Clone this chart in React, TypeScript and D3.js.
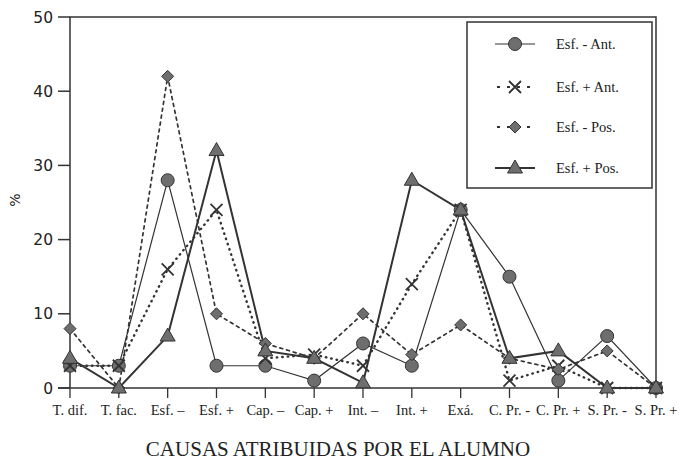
import React, { useEffect, useRef } from 'react';
import * as d3 from 'd3';

const categories = ['T. dif.', 'T. fac.', 'Esf. –', 'Esf. +', 'Cap. –', 'Cap. +', 'Int. –', 'Int. +', 'Exá.', 'C. Pr. -', 'C. Pr. +', 'S. Pr. -', 'S. Pr. +'];

const esfMenosAnt = [3, 3, 28, 3, 3, 1, 6, 3, 24, 15, 1, 7, 0];
const esfMasAnt = [3, 3, 16, 24, 4, 4.5, 3, 14, 24, 1, 3, 0, 0];
const esfMenosPos = [8, 0, 42, 10, 6, 4, 10, 4.5, 8.5, 4, 2.5, 5, 0];
const esfMasPos = [4, 0, 7, 32, 5, 4, 0.7, 28, 24, 4, 5, 0, 0];

const yTicks = [0, 10, 20, 30, 40, 50];

const series = [
  { name: 'Esf. - Ant.', values: esfMenosAnt, marker: 'circle', width: 1.2, dash: null },
  { name: 'Esf. + Ant.', values: esfMasAnt, marker: 'cross', width: 2.4, dash: '0.5,5' },
  { name: 'Esf. - Pos.', values: esfMenosPos, marker: 'diamond', width: 1.7, dash: '3,4' },
  { name: 'Esf. + Pos.', values: esfMasPos, marker: 'triangle', width: 2, dash: null },
];

const INK = '#333';
const FILL = '#6e6e6e';
const SERIF = 'Liberation Serif, Times New Roman, serif';

function drawMarker(g, kind, x, y) {
  if (kind === 'circle') {
    g.append('circle').attr('cx', x).attr('cy', y).attr('r', 6.5)
      .attr('fill', FILL).attr('stroke', INK).attr('stroke-width', 1);
  } else if (kind === 'triangle') {
    g.append('path')
      .attr('d', `M${x},${y - 8}L${x + 7.5},${y + 5}L${x - 7.5},${y + 5}Z`)
      .attr('fill', FILL).attr('stroke', INK).attr('stroke-width', 1);
  } else if (kind === 'diamond') {
    g.append('path')
      .attr('d', `M${x},${y - 6}L${x + 6},${y}L${x},${y + 6}L${x - 6},${y}Z`)
      .attr('fill', FILL).attr('stroke', INK).attr('stroke-width', 1);
  } else {
    g.append('path')
      .attr('d', `M${x - 6},${y - 6}L${x + 6},${y + 6}M${x + 6},${y - 6}L${x - 6},${y + 6}`)
      .attr('fill', 'none').attr('stroke', INK).attr('stroke-width', 1.8);
  }
}

const App = () => {
  const svgRef = useRef(null);

  useEffect(() => {
    document.body.style.margin = '0';
    const svg = d3.select(svgRef.current);
    svg.selectAll('*').remove();

    const x = d3.scalePoint().domain(categories).range([70, 656]);
    const y = d3.scaleLinear().domain([0, 50]).range([388, 17]);

    // frame
    svg.append('path')
      .attr('d', `M70,${y(0)}V${y(50)}H656V${y(0)}`)
      .attr('fill', 'none').attr('stroke', INK).attr('stroke-width', 1.5);
    svg.append('line').attr('x1', 58).attr('x2', 656).attr('y1', y(0)).attr('y2', y(0))
      .attr('stroke', INK).attr('stroke-width', 1.5);

    // y axis
    const yAxis = svg.append('g');
    yTicks.forEach(t => {
      yAxis.append('line').attr('x1', 58).attr('x2', 70).attr('y1', y(t)).attr('y2', y(t))
        .attr('stroke', INK).attr('stroke-width', 1.5);
      yAxis.append('text').attr('x', 53).attr('y', y(t) + 5.5).attr('text-anchor', 'end')
        .attr('font-family', 'DejaVu Sans, sans-serif').attr('font-size', 15.5).attr('fill', '#222')
        .text(t);
    });
    svg.append('text').attr('transform', 'translate(20,200) rotate(-90)')
      .attr('text-anchor', 'middle').attr('font-family', 'DejaVu Sans, sans-serif')
      .attr('font-size', 14).attr('fill', '#222').text('%');

    // x axis
    const xAxis = svg.append('g');
    categories.forEach(c => {
      xAxis.append('line').attr('x1', x(c)).attr('x2', x(c)).attr('y1', y(0)).attr('y2', y(0) + 10)
        .attr('stroke', INK).attr('stroke-width', 1.3);
      xAxis.append('text').attr('x', x(c)).attr('y', 415).attr('text-anchor', 'middle')
        .attr('font-family', SERIF).attr('font-size', 14.5)
        .attr('fill', '#222').text(c);
    });
    svg.append('text').attr('x', 338).attr('y', 456).attr('text-anchor', 'middle')
      .attr('font-family', SERIF).attr('font-size', 21)
      .attr('fill', '#222').text('CAUSAS ATRIBUIDAS POR EL ALUMNO');

    // lines
    const line = d3.line().x((d, i) => x(categories[i])).y(d => y(d));
    series.forEach(s => {
      svg.append('path').attr('d', line(s.values)).attr('fill', 'none')
        .attr('stroke', INK).attr('stroke-width', s.width)
        .attr('stroke-linecap', s.dash ? 'round' : 'butt')
        .attr('stroke-dasharray', s.dash);
    });
    series.forEach(s => {
      const g = svg.append('g');
      s.values.forEach((v, i) => drawMarker(g, s.marker, x(categories[i]), y(v)));
    });

    // legend
    const lg = svg.append('g');
    lg.append('rect').attr('x', 467).attr('y', 22).attr('width', 185).attr('height', 166)
      .attr('fill', 'white').attr('stroke', INK).attr('stroke-width', 1.5);
    const rows = [44, 87, 127, 168];
    series.forEach((s, i) => {
      const ly = rows[i];
      if (s.dash) {
        lg.append('line').attr('x1', 497).attr('x2', 533).attr('y1', ly).attr('y2', ly)
          .attr('stroke', INK).attr('stroke-width', 2.2).attr('stroke-dasharray', '3,7');
      } else {
        lg.append('line').attr('x1', 495).attr('x2', 535).attr('y1', ly).attr('y2', ly)
          .attr('stroke', INK).attr('stroke-width', s.width);
      }
      drawMarker(lg, s.marker, 515, ly);
      lg.append('text').attr('x', 556).attr('y', ly + 5)
        .attr('font-family', SERIF).attr('font-size', 14.5)
        .attr('fill', '#222').text(s.name);
    });
  }, []);

  return <svg ref={svgRef} width={685} height={460} style={{ display: 'block', background: 'white' }} />;
};

export default App;
